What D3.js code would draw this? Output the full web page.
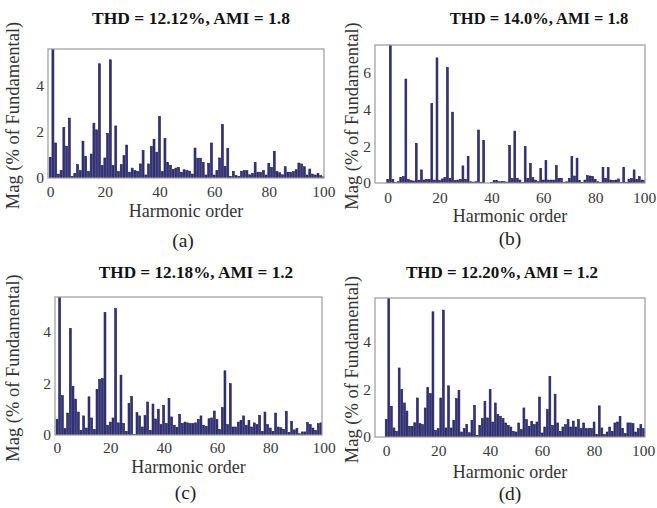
<!DOCTYPE html>
<html>
<head>
<meta charset="utf-8">
<script src="https://cdn.jsdelivr.net/npm/d3@7"></script>
<style>
  html, body { margin: 0; padding: 0; background: #fff; }
  svg { display: block; }
  text { font-family: "Liberation Serif", "Times New Roman", serif; }
</style>
</head>
<body>
<svg id="fig" width="657" height="508"></svg>
<script>
// Harmonic orders 0..100 shared by every spectrum
const harmonics = d3.range(0, 101);

// Harmonic magnitudes, % of fundamental (h1 is the fundamental itself)
const magA = [0.9,100,1.52,0.17,0.32,2.2,1.38,2.6,0.07,0.2,0.58,0.32,1.6,0.93,0.28,1.04,2.38,2.09,4.96,0.54,
  0.87,1.94,5.13,0.54,2.26,0.28,0.58,0.97,1.43,0.25,0.43,0.32,0.29,0.61,1.19,0.13,0.61,1.36,1.68,1.12,
  2.67,0.28,1.72,0.67,0.55,0.38,0.43,0.46,0.25,0.36,0.32,0.3,0.17,1.3,0.86,0.86,0.68,0.13,0.64,1.52,
  0.13,0.32,0.87,2.32,0.51,1.29,0.07,0.29,0.1,0.07,0.29,0.32,0.32,0.14,0.2,0.68,0.25,0.25,0.32,0.13,
  0.64,0.46,1.16,0.28,0.23,0.14,0.49,0.25,0.25,0.28,0.36,0.65,0.61,0.49,0.13,0.39,0.17,0.13,0.2,0.1,0.05];

const magB = [0.2,100,0.2,0.02,0.07,0.3,0.35,5.65,0.2,0.13,0.11,2.16,0.15,0.71,0.16,0.2,0.2,4.31,0.16,6.8,
  0.13,0.22,0.29,6.27,0.25,3.85,0.13,0.16,0.2,0.93,0.2,1.45,0.07,0.05,0.07,2.88,0.04,2.31,0,0,
  0.02,0.13,0.13,0.07,0.09,0.07,0.05,2.04,0.25,2.82,0.25,0.16,0.04,1.98,0.25,1.07,0.29,0.16,0.07,0.8,
  0.16,1.22,0.16,0.16,0.16,0.95,0.25,0.25,0.04,0.07,0.25,1.44,0.38,1.35,0.13,0.04,0.16,0.4,0.38,0.35,
  0.2,0.07,0.04,0.85,0.25,0.85,0.16,0.13,0.16,0.22,0.02,0.84,0.04,0.2,0.25,0.71,0.2,0.35,0.16,0.13,0.07];

const magC = [0.6,100,1.53,0.25,0.85,4.13,1.89,1.39,0.89,0.18,0.74,0.27,1.48,0.66,0.22,1.77,2.16,2.2,4.75,0.38,
  0.5,0.66,4.9,0.47,2.32,0.45,0.14,1.22,1.5,0.02,0.87,0.74,0.31,0.75,1.28,0.18,1.2,0.62,1.0,0.4,
  1.15,0.45,1.42,0.7,0.38,0.3,0.8,0.45,0.5,0.47,0.44,0.44,0.47,0.61,0.74,0.38,0.34,0.63,0.66,0.93,
  0.6,0.22,1.06,2.49,0.4,1.99,0.31,0.31,0.5,0.57,0.74,0.38,0.57,0.31,0.47,0.4,0.76,0.14,0.89,0.4,
  0.27,0.14,0.85,0.31,0.28,0.22,0.92,0.1,0.53,0.2,0.25,0.05,0.12,0.12,0.48,0.4,0.27,0.18,0.44,0.47,0.5];

const magD = [0.73,100,1.29,0.38,0.24,2.9,2.0,1.43,1.09,0.45,0.45,0.6,1.64,0.56,0.52,1.22,2.08,1.82,5.26,0.28,
  0.35,1.64,5.33,0.38,2.15,0.38,0.7,1.61,1.96,0.21,0.35,0.53,0.18,0.7,1.33,0.07,0.49,0.77,1.5,0.8,
  1.99,0.63,1.43,0.94,0.87,0.77,0.59,0.49,0.42,0.24,0.21,0.59,0.31,1.22,0.73,0.45,0.66,0.52,0.63,1.68,
  0.17,0.42,1.15,2.55,0.49,1.8,0.59,0.24,0.42,0.52,0.73,0.42,0.67,0.42,0.73,0.35,0.59,0.35,0.35,0.35,
  0.63,0.1,1.31,0.38,0.1,0.21,0.42,0.24,0.59,0.63,0.87,0.35,0.14,0.59,0.59,0.56,0.21,0.35,0.52,0.35,0.2];

// Panel titles, sub-captions and axis ticks
const titles = ["THD = 12.12%, AMI = 1.8", "THD = 14.0%, AMI = 1.8",
                "THD = 12.18%, AMI = 1.2", "THD = 12.20%, AMI = 1.2"];
const captions = ["(a)", "(b)", "(c)", "(d)"];
const xTicks = [0, 20, 40, 60, 80, 100];
const yTicksA = [0, 2, 4];
const yTicksB = [0, 2, 4, 6];
const yTicksC = [0, 2, 4];
const yTicksD = [0, 2, 4];

// Layout of each subplot box (pixels) and its axis limits
const panels = [
  { data: magA, yTicks: yTicksA, box: { l: 48, r: 324, t: 49, b: 178 }, xDom: [-0.8, 100.2], yMax: 5.6,
    titleX: 191, titleY: 24, titleSize: 17.5, yLabX: 13, xLabY: 217, capY: 247, tickY: 198 },
  { data: magB, yTicks: yTicksB, box: { l: 375, r: 645, t: 45, b: 183 }, xDom: [-4.9, 99.2], yMax: 7.5,
    titleX: 539, titleY: 24, titleSize: 16.5, yLabX: 352, xLabY: 222, capY: 245, tickY: 204 },
  { data: magC, yTicks: yTicksC, box: { l: 55, r: 322, t: 297, b: 435 }, xDom: [-0.75, 99.4], yMax: 5.35,
    titleX: 196, titleY: 278, titleSize: 17.2, yLabX: 13, xLabY: 473, capY: 499, tickY: 454 },
  { data: magD, yTicks: yTicksD, box: { l: 375, r: 645, t: 298, b: 437 }, xDom: [-4.3, 99.6], yMax: 5.84,
    titleX: 502, titleY: 278, titleSize: 17, yLabX: 352, xLabY: 478, capY: 500, tickY: 457 }
];

const svg = d3.select("#fig");
const barColor = "#33337f";
const barEdge = "#1c1c55";

panels.forEach((p, i) => {
  const { l, r, t, b } = p.box;
  const x = d3.scaleLinear().domain(p.xDom).range([l, r]);
  const y = d3.scaleLinear().domain([0, p.yMax]).range([b, t]);
  const unit = x(1) - x(0);
  const bw = unit * 0.72;

  const g = svg.append("g");

  const clipId = "clip" + i;
  svg.append("clipPath").attr("id", clipId)
    .append("rect").attr("x", l).attr("y", t).attr("width", r - l).attr("height", b - t);

  // spectrum bars
  g.append("g").attr("clip-path", `url(#${clipId})`)
    .selectAll("rect").data(harmonics).join("rect")
    .attr("x", h => x(h) - bw / 2)
    .attr("y", h => y(p.data[h]))
    .attr("width", bw)
    .attr("height", h => y(0) - y(p.data[h]))
    .attr("fill", barColor)
    .attr("stroke", barEdge)
    .attr("stroke-width", 0.6);

  // box around the axes
  g.append("rect").attr("x", l).attr("y", t).attr("width", r - l).attr("height", b - t)
    .attr("fill", "none").attr("stroke", "#9a9a9a").attr("stroke-width", 1.2);

  // x axis tick labels
  const xAxis = d3.axisBottom(x).tickValues(xTicks).tickSize(0).tickPadding(0).tickFormat(d3.format("d"));
  const gx = g.append("g").attr("transform", `translate(0,${p.tickY - 12})`).call(xAxis);
  gx.select(".domain").remove();
  gx.selectAll("text").attr("font-family", "Liberation Serif").attr("font-size", 15.5)
    .attr("fill", "#3a3a3a").attr("dy", "0.71em");
  // keep the right-most label of the right-hand panels inside the page
  if (r > 640) gx.selectAll(".tick").filter(d => d === 100).select("text").attr("x", -3);

  // y axis tick labels
  const yAxis = d3.axisLeft(y).tickValues(p.yTicks).tickSize(0).tickPadding(4).tickFormat(d3.format("d"));
  const gy = g.append("g").attr("transform", `translate(${l},0)`).call(yAxis);
  gy.select(".domain").remove();
  gy.selectAll("text").attr("font-family", "Liberation Serif").attr("font-size", 15.5)
    .attr("fill", "#3a3a3a");

  // axis titles
  g.append("text").attr("x", (l + r) / 2).attr("y", p.xLabY)
    .attr("text-anchor", "middle").attr("font-size", 18).attr("fill", "#333")
    .text("Harmonic order");
  g.append("text")
    .attr("transform", `translate(${p.yLabX},${(t + b) / 2 + 2}) rotate(-90)`)
    .attr("text-anchor", "middle").attr("dy", "0.35em").attr("font-size", 18.5).attr("fill", "#333")
    .text("Mag (% of Fundamental)");

  // panel title
  g.append("text").attr("x", p.titleX).attr("y", p.titleY)
    .attr("text-anchor", "middle").attr("font-weight", "bold").attr("font-size", p.titleSize)
    .attr("fill", "#111").text(titles[i]);

  // sub-caption
  g.append("text").attr("x", (l + r) / 2 + (i % 2 === 0 ? -3 : 0)).attr("y", p.capY)
    .attr("text-anchor", "middle").attr("font-size", 19.5).attr("fill", "#222")
    .text(captions[i]);
});
</script>
</body>
</html>
